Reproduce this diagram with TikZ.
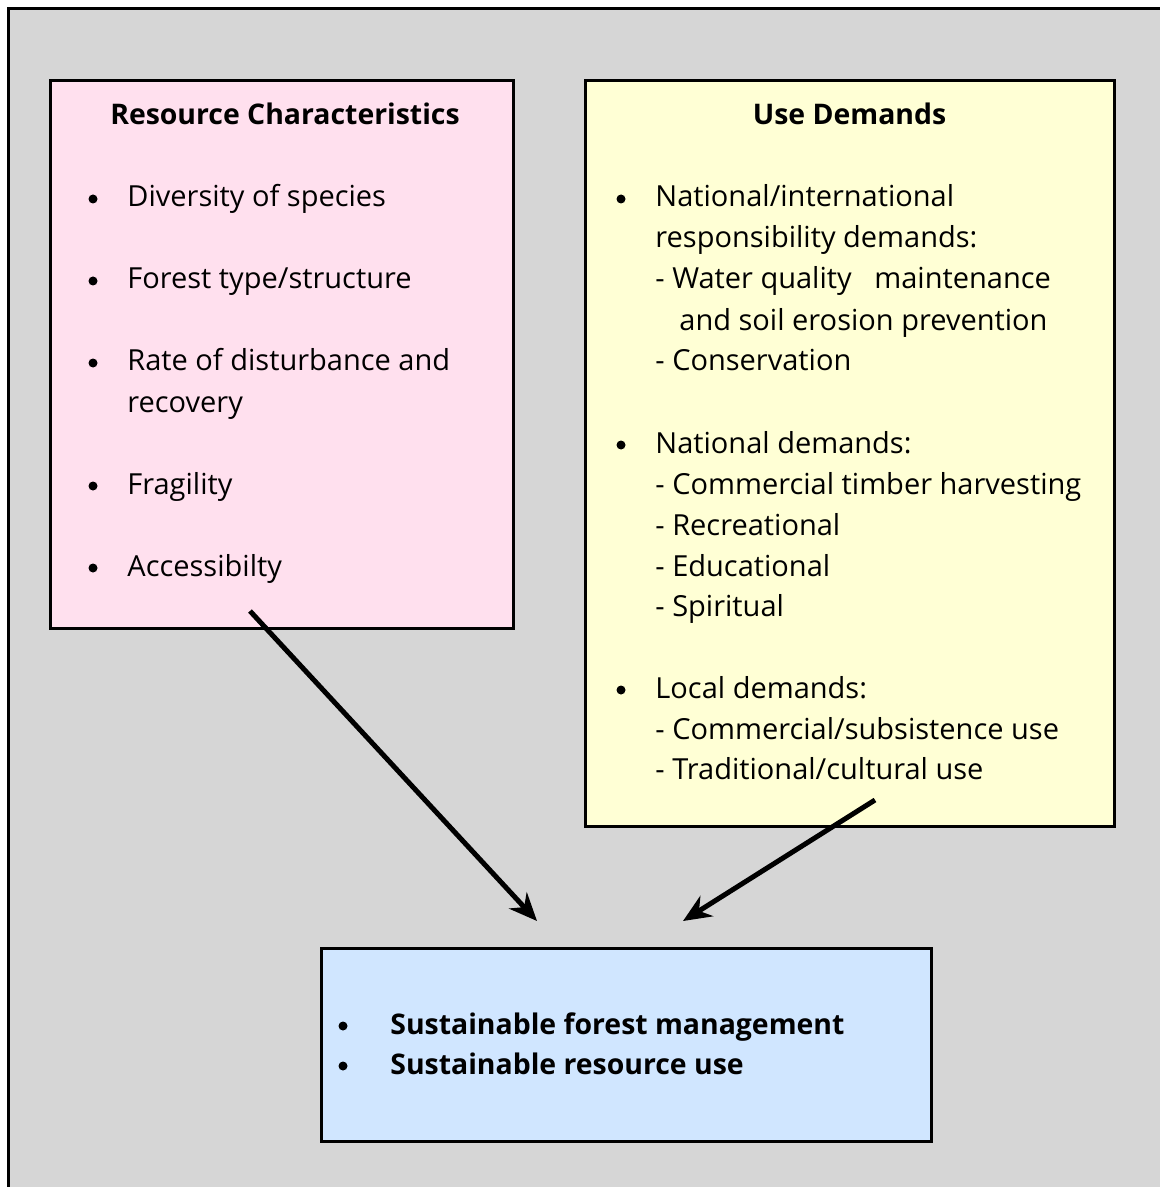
\documentclass[tikz,border=0pt]{standalone}
\usepackage{fontspec}
\setmainfont{Open Sans}
\usetikzlibrary{arrows.meta,shadows}

\definecolor{bggray}{RGB}{214,214,214}
\definecolor{pinkbg}{RGB}{255,224,238}
\definecolor{yellowbg}{RGB}{255,255,213}
\definecolor{bluebg}{RGB}{208,230,255}

\tikzset{
  panel/.style={draw,line width=1.5pt,inner sep=0pt,
    drop shadow={shadow xshift=1pt,shadow yshift=-1pt,fill=gray,opacity=1}},
  txt/.style={anchor=base west,inner sep=0pt,font=\fontsize{14.5}{17}\selectfont},
  boldtxt/.style={txt,font=\bfseries\fontsize{14.2}{17}\selectfont},
  head/.style={anchor=base,inner sep=0pt,font=\bfseries\fontsize{14.2}{17}\selectfont},
  dot/.style={circle,fill,inner sep=0pt,minimum size=4.5pt,yshift=4pt},
}

\begin{document}
\begin{tikzpicture}[x=0.5pt,y=-0.5pt]
\useasboundingbox (0,0) rectangle (1160,1187);
\clip (0,0) rectangle (1160,1187);
\draw[fill=bggray,line width=1.5pt] (8,9) rectangle (1200,1220);

% the three boxes
\node[panel,fill=pinkbg,minimum width=231.5pt,minimum height=273.5pt] (rc) at (281.5,354.5) {};
\node[panel,fill=yellowbg,minimum width=264.5pt,minimum height=372.5pt] (ud) at (849.5,453.5) {};
\node[panel,fill=bluebg,minimum width=305pt,minimum height=96.5pt] (sfm) at (626,1044.5) {};

% Resource Characteristics
\node[head] (rctitle) at (285,125) {Resource Characteristics};
\node[dot] (rcb1) at (93,207) {};
\node[txt] (rc1) at (127,207) {Diversity of species};
\node[dot] (rcb2) at (93,289) {};
\node[txt] (rc2) at (127,289) {Forest type/structure};
\node[dot] (rcb3) at (93,371) {};
\node[txt] (rc3) at (127,371) {Rate of disturbance and};
\node[txt] (rc3b) at (127,412) {recovery};
\node[dot] (rcb4) at (93,494) {};
\node[txt] (rc4) at (127,494) {Fragility};
\node[dot] (rcb5) at (93,576) {};
\node[txt] (rc5) at (127,576) {Accessibilty};

% Use Demands
\node[head] (udtitle) at (849.5,125) {Use Demands};
\node[dot] (udb1) at (621,207) {};
\node[txt] (ud1) at (655,207) {National/international};
\node[txt] (ud1b) at (655,248) {responsibility demands:};
\node[txt] (ud1c) at (655,289) {- Water quality\ \ \ maintenance};
\node[txt] (ud1d) at (679,330) {and soil erosion prevention};
\node[txt] (ud1e) at (655,371) {- Conservation};
\node[dot] (udb2) at (621,453) {};
\node[txt] (ud2) at (655,453) {National demands:};
\node[txt] (ud2b) at (655,494) {- Commercial timber harvesting};
\node[txt] (ud2c) at (655,535) {- Recreational};
\node[txt] (ud2d) at (655,576) {- Educational};
\node[txt] (ud2e) at (655,616) {- Spiritual};
\node[dot] (udb3) at (621,698) {};
\node[txt] (ud3) at (655,698) {Local demands:};
\node[txt] (ud3b) at (655,739) {- Commercial/subsistence use};
\node[txt] (ud3c) at (655,779) {- Traditional/cultural use};

% outcome
\node[dot] (sfmb1) at (343,1034) {};
\node[boldtxt] (sfm1) at (390,1034) {Sustainable forest management};
\node[dot] (sfmb2) at (343,1074) {};
\node[boldtxt] (sfm2) at (390,1074) {Sustainable resource use};

% arrows
\coordinate (rcout) at (250,611);
\coordinate (rcin) at (537,921);
\coordinate (udout) at (875,800);
\coordinate (udin) at (683,921);
\begin{scope}[>={Stealth[length=14pt,width=12pt]},line width=2.5pt]
    \draw[->] (rcout) -- (rcin);
    \draw[->] (udout) -- (udin);
\end{scope}
\end{tikzpicture}
\end{document}
